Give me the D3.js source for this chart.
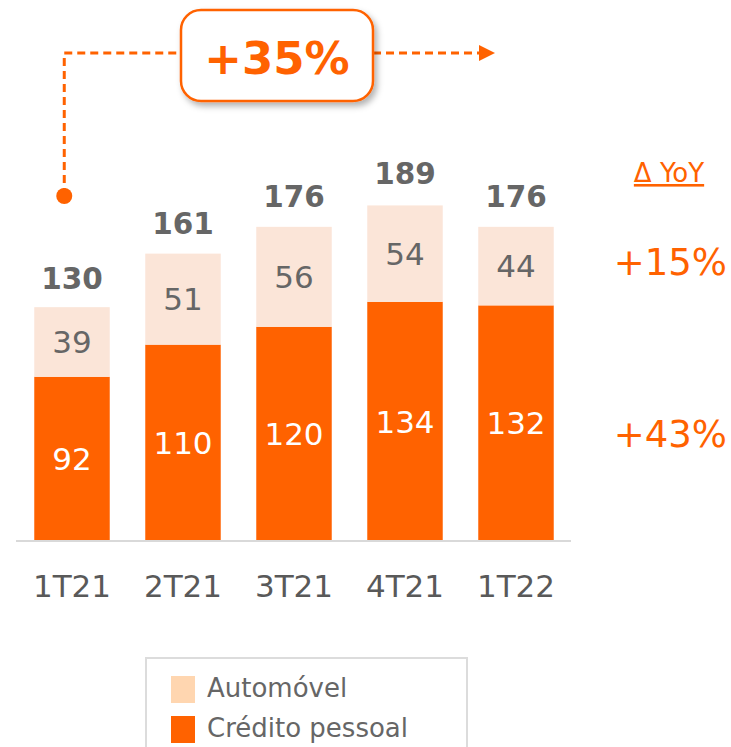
<!DOCTYPE html>
<html><head><meta charset="utf-8">
<script src="https://cdn.jsdelivr.net/npm/d3@7"></script>
<style>html,body{margin:0;padding:0;background:#fff}svg{display:block}</style>
</head><body>
<svg id="chart" width="731" height="747"></svg>
<script>
const categories = ["1T21","2T21","3T21","4T21","1T22"];
const credito = [92,110,120,134,132];
const automovel = [39,51,56,54,44];
const totals = [130,161,176,189,176];
const seriesNames = ["Crédito pessoal","Automóvel"];
const yoyLabels = ["+15%","+43%"];
const growthLabel = "+35%";
const yoyTitle = "\u0394 YoY";

const ORANGE = "#FF6200", LIGHT = "#FBE5D8", LEG_LIGHT = "#FFD6B0";
const FONT = "'DejaVu Sans', Verdana, sans-serif";

const svg = d3.select("#chart");
const defs = svg.append("defs");
const f = defs.append("filter").attr("id","sh").attr("x","-20%").attr("y","-20%").attr("width","140%").attr("height","150%");
f.append("feDropShadow").attr("dx",3).attr("dy",4).attr("stdDeviation",3).attr("flood-color","#000").attr("flood-opacity",0.3);

const table = categories.map((c,i)=>({cat:c, "Crédito pessoal":credito[i], "Automóvel":automovel[i]}));
const stacked = d3.stack().keys(seriesNames)(table);

const x = d3.scaleBand().domain(categories).range([16.5,571.5]).paddingInner(0.32).paddingOuter(0.16);
const y = d3.scaleLinear().domain([0,100]).range([541,362.5]);

const colors = {"Crédito pessoal":ORANGE, "Automóvel":LIGHT};
const labelColors = {"Crédito pessoal":"#ffffff", "Automóvel":"#666666"};

stacked.forEach(s=>{
  const g = svg.append("g");
  g.selectAll("rect").data(s).join("rect")
    .attr("x",d=>x(d.data.cat)).attr("width",x.bandwidth())
    .attr("y",d=>y(d[1])).attr("height",d=>y(d[0])-y(d[1]))
    .attr("fill",colors[s.key]);
  g.selectAll("text").data(s).join("text")
    .attr("x",d=>x(d.data.cat)+x.bandwidth()/2)
    .attr("y",d=>(y(d[0])+y(d[1]))/2)
    .attr("dy","0.36em")
    .attr("text-anchor","middle")
    .attr("font-family",FONT).attr("font-size",31)
    .attr("fill",labelColors[s.key])
    .text(d=>d.data[s.key]);
});

// baseline axis
const axis = d3.axisBottom(x).tickSize(0).tickPadding(0);
const ag = svg.append("g").attr("transform","translate(0,541)").call(axis);
ag.select(".domain").attr("stroke","#d9d9d9").attr("stroke-width",2).attr("d","M16,0H571");
ag.selectAll("text").attr("font-family",FONT).attr("font-size",31).attr("fill","#595959").attr("dy",null).attr("y",56);

// totals
svg.append("g").selectAll("text").data(categories).join("text")
  .attr("x",d=>x(d)+x.bandwidth()/2)
  .attr("y",(d,i)=>y(totals[i])-20)
  .attr("text-anchor","middle")
  .attr("font-family",FONT).attr("font-size",29.5).attr("font-weight","bold")
  .attr("fill","#666666")
  .text((d,i)=>totals[i]);

// growth annotation
const lineY = 53;
const x0 = x(categories[0]) + 30;
const dash = "8,5";
svg.append("path").attr("d",`M${x0},196V${lineY}H180`).attr("fill","none").attr("stroke",ORANGE).attr("stroke-width",3).attr("stroke-dasharray",dash);
svg.append("circle").attr("cx",x0).attr("cy",196).attr("r",8).attr("fill",ORANGE);
svg.append("path").attr("d",`M373,${lineY}H481`).attr("fill","none").attr("stroke",ORANGE).attr("stroke-width",3).attr("stroke-dasharray",dash);
svg.append("path").attr("d",`M479,${lineY-8}L495,${lineY}L479,${lineY+8}Z`).attr("fill",ORANGE);
svg.append("rect").attr("x",181).attr("y",10).attr("width",192).attr("height",91).attr("rx",20)
  .attr("fill","#fff").attr("stroke",ORANGE).attr("stroke-width",2.5).attr("filter","url(#sh)");
svg.append("text").attr("x",277).attr("y",74).attr("text-anchor","middle")
  .attr("font-family",FONT).attr("font-size",45).attr("font-weight","bold").attr("fill",ORANGE).text(growthLabel);

// YoY column
svg.append("text").attr("x",669).attr("y",182).attr("text-anchor","middle")
  .attr("font-family",FONT).attr("font-size",26).attr("fill",ORANGE).attr("text-decoration","underline").text(yoyTitle);
svg.append("g").selectAll("text").data(yoyLabels).join("text")
  .attr("x",727).attr("y",(d,i)=>[275,447][i]).attr("text-anchor","end")
  .attr("font-family",FONT).attr("font-size",37).attr("fill",ORANGE).text(d=>d);

// legend
svg.append("rect").attr("x",146).attr("y",658).attr("width",321).attr("height",100).attr("fill","#fff").attr("stroke","#dcdcdc").attr("stroke-width",2);
const legendItems = [{name:seriesNames[1], color:LEG_LIGHT},{name:seriesNames[0], color:ORANGE}];
const lg = svg.append("g").selectAll("g").data(legendItems).join("g").attr("transform",(d,i)=>`translate(171,${676+i*40})`);
lg.append("rect").attr("width",24).attr("height",27).attr("fill",d=>d.color);
lg.append("text").attr("x",36).attr("y",21).attr("font-family",FONT).attr("font-size",26).attr("fill","#666666").text(d=>d.name);
</script>
</body></html>
